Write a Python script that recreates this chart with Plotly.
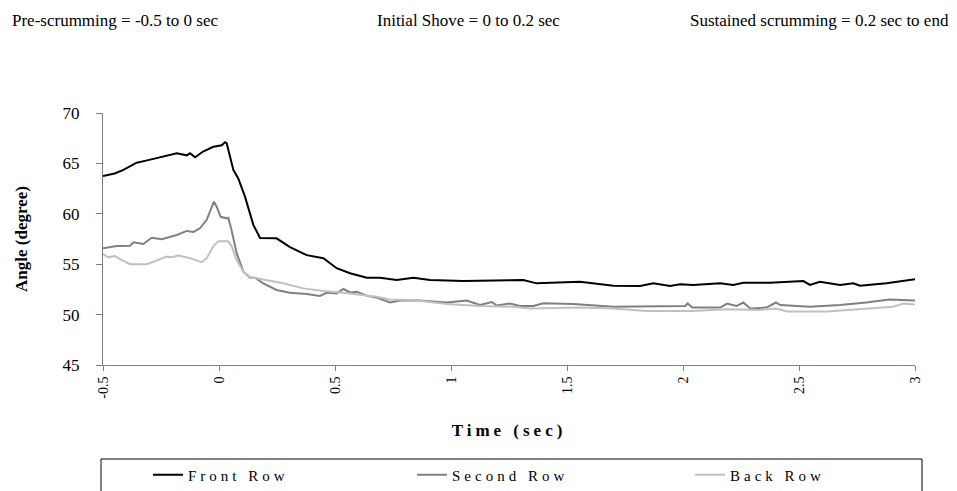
import plotly.graph_objects as go

# ---- data ----
t_front = [-0.5, -0.45, -0.412, -0.355, -0.31, -0.269, -0.22, -0.182, -0.139, -0.125, -0.103, -0.067,
           -0.024, 0.012, 0.026, 0.033, 0.062, 0.083, 0.112, 0.148, 0.177, 0.248, 0.306, 0.378, 0.45,
           0.507, 0.565, 0.637, 0.694, 0.737, 0.766, 0.838, 0.909, 1.053, 1.226, 1.312, 1.369, 1.556,
           1.7, 1.815, 1.872, 1.944, 1.987, 2.044, 2.16, 2.217, 2.26, 2.375, 2.519, 2.547, 2.59, 2.677,
           2.734, 2.763, 2.877, 3.0]
front_row = [63.75, 64.0, 64.35, 65.07, 65.3, 65.5, 65.75, 66.0, 65.8, 66.0, 65.6, 66.2,
             66.65, 66.8, 67.1, 67.0, 64.35, 63.5, 61.7, 58.9, 57.6, 57.57, 56.7, 55.9, 55.6,
             54.6, 54.1, 53.66, 53.66, 53.5, 53.43, 53.66, 53.43, 53.33, 53.43, 53.43, 53.1, 53.26,
             52.87, 52.84, 53.1, 52.84, 53.0, 52.94, 53.1, 52.94, 53.16, 53.16, 53.33, 52.94, 53.26, 52.94,
             53.1, 52.87, 53.1, 53.5]

t_second = [-0.5, -0.44, -0.383, -0.369, -0.326, -0.29, -0.247, -0.182, -0.139, -0.11, -0.082, -0.053,
            -0.036, -0.022, -0.01, 0.007, 0.033, 0.04, 0.054, 0.076, 0.105, 0.134, 0.155, 0.191, 0.248,
            0.306, 0.378, 0.435, 0.464, 0.507, 0.536, 0.565, 0.594, 0.637, 0.68, 0.737, 0.78, 0.866,
            0.981, 1.067, 1.125, 1.176, 1.197, 1.254, 1.297, 1.355, 1.398, 1.527, 1.70, 1.843, 1.91,
            2.01, 2.02, 2.04, 2.16, 2.19, 2.23, 2.26, 2.29, 2.36, 2.40, 2.42, 2.547, 2.677, 2.79, 2.89, 3.0]
second_row = [56.57, 56.8, 56.84, 57.17, 57.0, 57.63, 57.47, 57.9, 58.3, 58.2, 58.56, 59.4,
              60.4, 61.2, 60.7, 59.7, 59.55, 59.6, 58.4, 56.1, 54.26, 53.66, 53.66, 53.1, 52.44,
              52.17, 52.04, 51.85, 52.17, 52.1, 52.54, 52.2, 52.27, 51.88, 51.68, 51.2, 51.4, 51.4,
              51.2, 51.4, 50.95, 51.25, 50.9, 51.1, 50.85, 50.85, 51.12, 51.05, 50.78, 50.78, 50.85,
              50.85, 51.1, 50.7, 50.7, 51.1, 50.85, 51.2, 50.6, 50.7, 51.2, 50.95, 50.78, 50.95, 51.2, 51.5, 51.4]

t_back = [-0.5, -0.477, -0.448, -0.419, -0.383, -0.312, -0.269, -0.226, -0.205, -0.175, -0.125, -0.075,
          -0.053, -0.024, -0.003, 0.04, 0.054, 0.076, 0.105, 0.134, 0.162, 0.22, 0.277, 0.363, 0.45,
          0.536, 0.622, 0.68, 0.737, 0.838, 0.981, 1.125, 1.27, 1.34, 1.556, 1.70, 1.843, 1.987, 2.04,
          2.19, 2.33, 2.40, 2.45, 2.62, 2.76, 2.905, 2.95, 3.0]
back_row = [56.0, 55.68, 55.8, 55.4, 55.0, 55.0, 55.35, 55.75, 55.7, 55.85, 55.6, 55.2,
            55.6, 56.8, 57.27, 57.27, 56.8, 55.4, 54.26, 53.7, 53.6, 53.33, 53.1, 52.6, 52.34,
            52.17, 51.94, 51.78, 51.5, 51.45, 51.05, 50.85, 50.78, 50.6, 50.7, 50.6, 50.36, 50.36, 50.36,
            50.53, 50.46, 50.6, 50.3, 50.3, 50.53, 50.78, 51.1, 51.0]

series_names = ["Front Row", "Second Row", "Back Row"]
y_ticks = [45, 50, 55, 60, 65, 70]
x_ticks = [-0.5, 0, 0.5, 1, 1.5, 2, 2.5, 3]
x_tick_labels = ["-0.5", "0", "0.5", "1", "1.5", "2", "2.5", "3"]
phase_notes = ["Pre-scrumming = -0.5 to 0 sec", "Initial Shove = 0 to 0.2 sec",
               "Sustained scrumming = 0.2 sec to end"]

FONT = "Liberation Serif, Times New Roman, serif"
OFF = 8  # default page body margin
W, H = 957 - OFF, 491 - OFF
ML, MR, MT, MB = 95, 42, 105, 126
PW, PH = W - ML - MR, H - MT - MB


def px(xr):
    """screen x (reference pixels) -> paper x"""
    return (xr - OFF - ML) / PW


def py(yr):
    """screen y (reference pixels) -> paper y"""
    return (H - MB - (yr - OFF)) / PH


def spaced(s, sp=3):
    return f'<span style="letter-spacing:{sp}px">{s}</span>'


fig = go.Figure()
colors = ["#000000", "#808080", "#c0c0c0"]
datasets = [(t_front, front_row), (t_second, second_row), (t_back, back_row)]
legend_ids = ["legend", "legend2", "legend3"]
for (tx, vy), name, c, lg in zip(datasets, series_names, colors, legend_ids):
    fig.add_trace(go.Scatter(x=tx, y=vy, mode="lines", name=spaced(name, 4),
                             line=dict(color=c, width=2), legend=lg, showlegend=True))

legend_common = dict(orientation="h", bgcolor="rgba(0,0,0,0)", borderwidth=0,
                     font=dict(family=FONT, size=15, color="#000"),
                     yanchor="middle", xanchor="left", y=py(475))
legend_x = [148, 412, 690]

annotations = []
anchors = [("left", 10), ("left", 375), ("right", 951)]
for txt, (anc, xr) in zip(phase_notes, anchors):
    annotations.append(dict(text=txt, x=px(xr), y=py(20), xref="paper", yref="paper",
                            xanchor=anc, yanchor="middle", showarrow=False,
                            font=dict(family=FONT, size=17, color="#000")))

fig.update_layout(
    width=W, height=H,
    showlegend=True,
    margin=dict(l=ML, r=MR, t=MT, b=MB, autoexpand=False),
    paper_bgcolor="white", plot_bgcolor="white",
    font=dict(family=FONT, color="#000"),
    legend=dict(**legend_common, x=px(legend_x[0])),
    legend2=dict(**legend_common, x=px(legend_x[1])),
    legend3=dict(**legend_common, x=px(legend_x[2])),
    annotations=annotations,
    shapes=[dict(type="rect", xref="paper", yref="paper", x0=px(101), x1=px(922),
                 y0=py(459), y1=py(497), line=dict(color="#000", width=1),
                 fillcolor="rgba(0,0,0,0)")],
    xaxis=dict(range=[-0.5, 3], tickmode="array", tickvals=x_ticks, ticktext=x_tick_labels,
               tickangle=-90, ticks="outside", ticklen=5, tickcolor="#808080",
               showline=True, linecolor="#808080", linewidth=1, showgrid=False, zeroline=False,
               tickfont=dict(family=FONT, size=14, color="#000"),
               title=dict(text="<b>" + spaced("Time (sec)", 4) + "</b>", standoff=26,
                          font=dict(family=FONT, size=17, color="#000"))),
    yaxis=dict(range=[45, 70], tickmode="array", tickvals=y_ticks,
               ticktext=[str(v) for v in y_ticks],
               ticks="outside", ticklen=6, tickcolor="#808080", ticklabelstandoff=13,
               showline=True, linecolor="#808080", linewidth=1, showgrid=False, zeroline=False,
               tickfont=dict(family=FONT, size=17, color="#000"),
               title=dict(text="<b>Angle (degree)</b>", standoff=30,
                          font=dict(family=FONT, size=17, color="#000"))),
)

fig.write_html("out.html")
